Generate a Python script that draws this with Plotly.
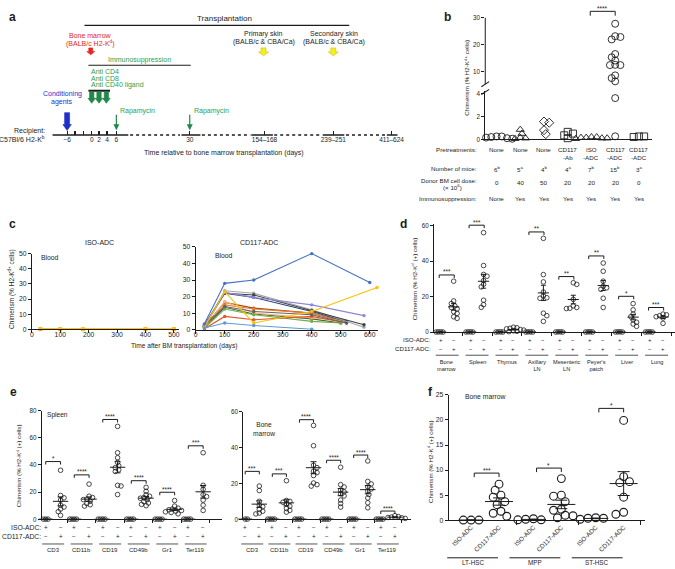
import numpy as np
import plotly.graph_objects as go

# ============================ DATA ============================
# ---- panel a (schematic timeline) ----
timeline_pos = [65.3, 73.3, 81.7, 90.0, 97.3, 105.3, 114.7, 188.3, 263.3, 332.3, 390.7]
timeline_labels = ["−6", " ", " ", "0", "2", "4", "6", "30", "154–168", "239–251", "411–624"]
timeline_solid = [(50.7, 126.7), (180.0, 199.0), (250.0, 271.7), (321.7, 343.3), (386.0, 396.7)]
timeline_dotted = [(128.5, 178.5), (200.5, 249.0), (273.0, 320.5), (345.0, 385.0)]

# ---- panel b ----
b_pretreat_top = ["None", "None", "None", "CD117", "ISO", "CD117", "CD117"]
b_pretreat_bot = ["", "", "", "-Ab", "-ADC", "-ADC", "-ADC"]
b_mice = ["6<sup>b</sup>", "5<sup>a</sup>", "4<sup>b</sup>", "4<sup>a</sup>",
          "7<sup>b</sup>", "15<sup>b</sup>", "3<sup>a</sup>"]
b_dose = ["0", "40", "50", "20", "20", "20", "0"]
b_immuno = ["None", "Yes", "Yes", "Yes", "Yes", "Yes", "Yes"]
b_chimerism = [
    [0.25, 0.15, 0.05, 0.1, 0.2, 0.25],
    [0.85, 0.15, 0.1, 0.05, 0.5],
    [1.55, 1.45, 0.45, 0.8],
    [0.5, 0.1, 0.35, 0.65],
    [0.2, 0.15, 0.1, 0.2, 0.05, 0.15, 0.1],
    [27.8, 23.2, 22.9, 22.0, 16.6, 15.4, 14.2, 12.6, 12.5, 12.5, 8.7, 7.7, 6.5, 3.6, 0.26],
    [0.25, 0.2, 0.25],
]
b_symbols = ["circle-open", "triangle-up-open", "diamond-open", "square-open",
             "triangle-up-open", "circle-open", "square-open"]

# ---- panel c ----
c_iso_days = [30, 100, 180, 400, 500]
c_iso_series = [("#ed7d31", [0.1, 0.1, 0.05, 0.1, 0.1]),
                ("#ffc000", [0.45, 0.4, 0.2, 0.3, 0.4])]
c_cd117_series = [
    ("#43682b", [30, 100, 200, 400, 500], [1.0, 13.5, 9.5, 6.5, 4.0]),
    ("#9e480e", [30, 100, 200, 400, 520], [2.0, 16.5, 13.0, 10.0, 4.5]),
    ("#ed7d31", [30, 100, 200, 400, 515], [1.5, 15.0, 12.5, 10.0, 5.0]),
    ("#f4b183", [30, 100, 200, 400, 510], [1.0, 17.0, 10.0, 7.0, 5.5]),
    ("#70ad47", [30, 100, 200, 400, 500], [1.0, 12.5, 9.0, 5.0, 4.0]),
    ("#e0562b", [30, 100, 200, 400, 520], [0.5, 8.0, 6.0, 8.0, 4.0]),
    ("#636363", [30, 100, 200, 400, 520], [2.5, 14.0, 11.0, 9.0, 4.0]),
    ("#264478", [30, 100, 200, 400, 520], [2.0, 22.0, 19.5, 11.0, 5.0]),
    ("#a5a5a5", [30, 100, 200, 400, 580], [2.0, 23.5, 22.0, 12.0, 1.5]),
    ("#404040", [30, 100, 200, 400, 580], [3.0, 22.0, 21.0, 11.5, 3.0]),
    ("#8e86d8", [30, 100, 200, 400, 580], [2.5, 22.5, 19.5, 15.0, 8.5]),
    ("#ffc000", [30, 100, 200, 400, 625], [1.5, 23.0, 4.0, 11.0, 25.5]),
    ("#5b9bd5", [30, 100, 200, 400], [1.0, 4.0, 2.5, 0.2]),
    ("#4472c4", [30, 100, 200, 400, 600], [3.5, 28.0, 30.0, 46.0, 28.5]),
]

# ---- panel d ----
d_tissues = ["Bone<br>marrow", "Spleen", "Thymus", "Axillary<br>LN", "Mesenteric<br>LN",
             "Peyer's<br>patch", "Liver", "Lung"]
d_iso = [[0.2, 0.1, 0.2, 0.1]] * 8
d_cd117 = [
    [28.7, 17.6, 16.1, 14.8, 13.9, 13.1, 11.5, 10.6, 8.7, 7.8],
    [56.0, 37.5, 32.5, 31.5, 29.0, 27.0, 25.5, 18.0, 15.5, 14.0],
    [2.8, 2.5, 2.2, 1.9, 1.5, 1.2, 0.8, 0.5, 0.3],
    [52.8, 32.4, 28.3, 22.6, 20.4, 19.4, 19.1, 10.7, 9.3, 6.1],
    [27.8, 26.9, 18.5, 14.8, 13.9, 13.5, 13.3],
    [38.9, 34.3, 28.7, 25.9, 25.0, 24.1, 19.1, 13.9],
    [16.1, 12.6, 10.2, 8.7, 6.9, 5.6, 4.6, 3.3],
    [10.2, 9.8, 9.3, 8.7, 8.0, 5.0],
]
d_sig = ["***", "***", "", "**", "**", "**", "*", "***"]
d_sig_y = [32.2, 60.2, None, 56.4, 31.3, 42.9, 20.2, 13.9]

# ---- panel e ----
e_markers = ["CD3", "CD11b", "CD19", "CD49b", "Gr1", "Ter119"]
e_iso = [[0.1, 0.1, 0.1, 0.1]] * 6
e_spleen_cd117 = [
    [36.1, 17.5, 15.8, 14.1, 10.4, 9.0, 7.5, 5.6, 2.9],
    [25.9, 17.0, 16.0, 14.8, 14.5, 13.3, 11.6, 10.7, 9.7],
    [68.4, 49.0, 45.3, 41.9, 39.5, 38.0, 36.4, 35.2, 25.0, 24.5, 18.2],
    [23.5, 20.6, 18.0, 17.0, 16.0, 15.5, 14.5, 13.0, 12.0, 11.0, 10.0],
    [13.8, 9.7, 8.2, 7.5, 7.0, 6.5, 6.0, 5.5, 5.0, 4.0],
    [49.0, 25.0, 22.1, 18.2, 16.7, 14.1, 10.4, 6.5],
]
e_spleen_sig = ["*", "****", "****", "****", "****", "***"]
e_spleen_sig_y = [42.5, 32.7, 73.5, 28.4, 19.9, 54.1]
e_bm_cd117 = [
    [18.5, 16.0, 10.0, 8.0, 7.0, 5.5, 4.5, 3.5, 3.0],
    [21.5, 10.5, 10.0, 9.5, 8.6, 7.3, 6.0, 5.0, 4.0],
    [52.3, 41.0, 30.1, 28.8, 26.8, 26.0, 24.4, 20.2, 19.3, 18.5],
    [29.0, 19.3, 18.0, 16.2, 15.3, 14.3, 13.0, 10.7, 8.8, 6.8],
    [32.5, 21.1, 19.7, 18.0, 16.9, 15.6, 13.8, 11.9, 9.2, 6.4],
    [2.0, 1.5, 1.2, 1.0, 0.8, 0.5],
]
e_bm_sig = ["***", "***", "****", "****", "****", "****"]
e_bm_sig_y = [26.7, 25.3, 55.5, 32.9, 35.8, 4.6]

# ---- panel f ----
f_pops = ["LT-HSC", "MPP", "ST-HSC"]
f_iso = [[0.05, 0.05, 0.05], [0.3, 0.1, 0.1, 0.2], [0.5, 0.2, 0.4, 0.4]]
f_cd117 = [
    [7.2, 6.0, 5.0, 4.6, 3.7, 3.1, 1.8, 1.4, 0.8],
    [8.3, 4.8, 5.0, 3.7, 2.2, 2.0, 1.0, 0.5, 0.9],
    [19.9, 8.7, 7.7, 7.5, 4.6, 1.6, 1.2],
]
f_sig = ["***", "*", "*"]
f_sig_y = [9.4, 10.4, 22.3]

# ============================ STYLE / HELPERS ============================
W, H = 675, 569
FONT = "Liberation Sans, Arial, Helvetica, sans-serif"
INK = "#1c1c1c"
RED = "#e3261c"
GREEN = "#2e9e50"
DKGREEN = "#22874a"
BLUE = "#1f2fc8"
YELLOW = "#f4ef1e"


def PX(x):
    return x / W


def PY(y):
    return 1 - y / H


fig = go.Figure()
AX, ANN, SHP = {}, [], []


def ids(n):
    s = "" if n == 1 else str(n)
    return "xaxis" + s, "yaxis" + s, "x" + s, "y" + s


def axes(n, xdom, ydom, xr, yr, xkw=None, ykw=None, tick_size=6.3):
    xa, ya, xid, yid = ids(n)
    base = dict(showgrid=False, zeroline=False, showline=True, linecolor=INK, linewidth=1,
                ticks="outside", ticklen=3, tickwidth=1, tickcolor=INK,
                tickfont=dict(family=FONT, size=tick_size, color=INK), fixedrange=True)
    xd = dict(base)
    xd.update(domain=[PX(xdom[0]), PX(xdom[1])], range=list(xr), anchor=yid)
    yd = dict(base)
    yd.update(domain=[PY(ydom[1]), PY(ydom[0])], range=list(yr), anchor=xid)
    if xkw:
        xd.update(xkw)
    if ykw:
        yd.update(ykw)
    AX[xa] = xd
    AX[ya] = yd
    return xid, yid


def T(text, x, y, size=6.5, color=INK, xanchor="center", yanchor="middle",
      xref="paper", yref="paper", angle=0):
    ANN.append(dict(text=text, x=PX(x) if xref == "paper" else x,
                    y=PY(y) if yref == "paper" else y, xref=xref, yref=yref,
                    showarrow=False, xanchor=xanchor, yanchor=yanchor, textangle=angle,
                    font=dict(family=FONT, size=size, color=color)))


def sc(xid, yid, x, y, **kw):
    fig.add_trace(go.Scatter(x=x, y=y, xaxis=xid, yaxis=yid, showlegend=False,
                             hoverinfo="skip", cliponaxis=False, **kw))


def pline(x0, y0, x1, y1, width=1.0, color=INK):
    SHP.append(dict(type="line", xref="paper", yref="paper", x0=PX(x0), y0=PY(y0),
                    x1=PX(x1), y1=PY(y1), line=dict(color=color, width=width)))


def swarm(vals, ypx, xscale, diam, mind=0.66):
    """Deterministic beeswarm offsets (data units of x) for a column of points."""
    order = sorted(range(len(vals)), key=lambda i: -vals[i])
    placed, offs = [], [0.0] * len(vals)
    step = diam * 0.25
    thr = (diam * mind) ** 2
    for i in order:
        y = ypx(vals[i])
        chosen = 0.0
        for k in range(120):
            cands = [0.0] if k == 0 else ([k * step, -k * step] if k % 2 else [-k * step, k * step])
            ok = None
            for c in cands:
                if all((c - a) ** 2 + (y - b) ** 2 >= thr for a, b in placed):
                    ok = c
                    break
            if ok is not None:
                chosen = ok
                break
        placed.append((chosen, y))
        offs[i] = chosen / xscale
    return offs


def dots(xid, yid, xc, vals, ypx, xscale, diam, symbol="circle-open", lw=0.8, mind=0.66):
    offs = swarm(vals, ypx, xscale, diam, mind)
    sc(xid, yid, [xc + o for o in offs], list(vals), mode="markers",
       marker=dict(symbol=symbol, size=diam, color=INK, line=dict(width=lw, color=INK)))


def mean_sem(xid, yid, xc, vals, meanw, capw):
    v = np.asarray(vals, dtype=float)
    m = float(v.mean())
    s = float(v.std(ddof=1) / np.sqrt(len(v)))
    sc(xid, yid, [xc], [m], mode="markers",
       marker=dict(symbol="line-ew", size=meanw, color=INK, line=dict(width=1, color=INK)),
       error_y=dict(type="data", array=[s], width=capw, thickness=1, color=INK))


def bracket(xid, yid, x0, x1, y, drop, text, size=6.5, shift=-2.5):
    sc(xid, yid, [x0, x0, x1, x1], [y - drop, y, y, y - drop], mode="lines",
       line=dict(color=INK, width=1))
    ANN.append(dict(text=text, x=(x0 + x1) / 2, y=y, xref=xid, yref=yid, showarrow=False,
                    yanchor="bottom", yshift=shift, font=dict(family=FONT, size=size, color=INK)))


def x_to_px(dom, rng, v):
    return dom[0] + (v - rng[0]) / (rng[1] - rng[0]) * (dom[1] - dom[0])


# ============================ PANEL a ============================
xa_, ya_ = axes(1, (0, 460), (0, 160), (0, 460), (160, 0),
                xkw=dict(anchor="free", position=PY(132.7), showline=False,
                         tickmode="array", tickvals=timeline_pos, ticktext=timeline_labels,
                         ticks="inside", ticklen=4, tickwidth=1.2, ticklabelstandoff=-1,
                         tickfont=dict(family=FONT, size=6.5, color=INK)),
                ykw=dict(visible=False))

sx, sy = [], []
for a, b in timeline_solid:
    sx += [a, b, None]
    sy += [132.7, 132.7, None]
sc(xa_, ya_, sx, sy, mode="lines", line=dict(color=INK, width=1.6))
dx_, dy_ = [], []
for a, b in timeline_dotted:
    dx_ += [a, b, None]
    dy_ += [132.7, 132.7, None]
sc(xa_, ya_, dx_, dy_, mode="lines", line=dict(color=INK, width=1.4, dash="dot"))

# horizontal bars: transplantation, immunosuppression, antibody bar
for x0, x1, yy, wdt in [(82.7, 348.3, 21.7, 1.2), (86.7, 189.3, 62.0, 1.2), (86.7, 108.3, 87.8, 2.0)]:
    sc(xa_, ya_, [x0, x1], [yy, yy], mode="lines", line=dict(color=INK, width=wdt))


def block_arrow(xc, ytop, ybot, shaft, head, hlen, color, edge=None):
    xs = [xc - shaft / 2, xc + shaft / 2, xc + shaft / 2, xc + head / 2, xc,
          xc - head / 2, xc - shaft / 2, xc - shaft / 2]
    ys = [ytop, ytop, ybot - hlen, ybot - hlen, ybot, ybot - hlen, ybot - hlen, ytop]
    sc(xa_, ya_, xs, ys, mode="lines", fill="toself", fillcolor=color,
       line=dict(color=edge or color, width=0.6))


block_arrow(89.0, 44.5, 51.5, 4.0, 8.0, 3.5, RED)
block_arrow(262.3, 44.5, 52.5, 5.0, 10.0, 4.0, YELLOW, "#c9bf10")
block_arrow(332.3, 44.5, 52.5, 5.0, 10.0, 4.0, YELLOW, "#c9bf10")
for xc in (90.0, 97.3, 104.7):
    block_arrow(xc, 88.8, 100.5, 4.4, 7.6, 5.0, DKGREEN)
block_arrow(65.3, 110.0, 128.0, 5.0, 8.5, 6.0, BLUE)

for xr_ in (114.7, 188.3):
    ANN.append(dict(x=xr_, y=127.8, ax=xr_, ay=110.5, xref=xa_, yref=ya_, axref=xa_, ayref=ya_,
                    text="", showarrow=True, arrowhead=2, arrowsize=1, arrowwidth=1.2,
                    arrowcolor=DKGREEN))

T("Transplantation", 223, 15, size=8.0)
T("Bone marrow", 89, 31.5, size=7, color=RED)
T("(BALB/c H2-K<sup>d</sup>)", 89, 39.5, size=7, color=RED)
T("Primary skin", 262.3, 30, size=7)
T("(BALB/c & CBA/Ca)", 262.3, 38.5, size=7)
T("Secondary skin", 333.3, 30, size=7)
T("(BALB/c & CBA/Ca)", 333.3, 38.5, size=7)
T("Immunosuppression", 137.7, 56.5, size=7, color=GREEN)
T("Anti CD4", 87.0, 68.3, size=7, color=GREEN, xanchor="left")
T("Anti CD8", 87.0, 75.3, size=7, color=GREEN, xanchor="left")
T("Anti CD40 ligand", 87.0, 82.0, size=7, color=GREEN, xanchor="left")
T("Conditioning", 60.5, 91.3, size=7, color=BLUE)
T("agents", 60.5, 99.5, size=7, color=BLUE)
T("Rapamycin", 116.8, 108.0, size=7, color=GREEN, xanchor="left")
T("Rapamycin", 190.5, 108.0, size=7, color=GREEN, xanchor="left")
T("Recipient:", 45.5, 128.3, size=7, xanchor="right")
T("C57Bl/6 H2-K<sup>b</sup>", 45.5, 136.7, size=7, xanchor="right")
T("Time relative to bone marrow transplantation (days)", 223, 150.5, size=7)

# ============================ PANEL b ============================
B_XDOM, B_XR = (484.7, 652.0), (-0.475, 6.555)
xb, yb = axes(2, B_XDOM, (88.3, 137.0), B_XR, (0, 4.2),
              xkw=dict(ticks="", showticklabels=False),
              ykw=dict(tickmode="array", tickvals=[0, 2, 4]))
xb2, yb2 = axes(3, B_XDOM, (0.3, 81.3), B_XR, (5.4, 35),
                xkw=dict(visible=False),
                ykw=dict(showline=False, tickmode="array", tickvals=[10, 20, 30]))
SHP.append(dict(type="line", xref="x3 domain", yref="y3", x0=0, x1=0, y0=5.4, y1=30,
                line=dict(color=INK, width=1)))
pline(480.8, 83.8, 488.6, 78.6, 1.1)
pline(480.8, 91.6, 488.6, 86.4, 1.1)


def b_ypx(v):
    return (137 - v * 11.6) if v < 4.2 else (81.3 - (v - 5.4) * 2.735)


for i, vals in enumerate(b_chimerism):
    offs = swarm(vals, b_ypx, 23.8, 7, 0.6)
    lo = [(i + o, v) for o, v in zip(offs, vals) if v < 4.2]
    hi = [(i + o, v) for o, v in zip(offs, vals) if v >= 4.2]
    mk = dict(symbol=b_symbols[i], size=7, color=INK, line=dict(width=0.9, color=INK))
    if lo:
        sc(xb, yb, [p[0] for p in lo], [p[1] for p in lo], mode="markers", marker=mk)
    if hi:
        sc(xb2, yb2, [p[0] for p in hi], [p[1] for p in hi], mode="markers", marker=mk)

bracket(xb2, yb2, 3.95, 5.0, 32.4, 1.6, "****", size=6.5)

T("Chimerism (% H2-K<sup>d+</sup> cells)", 466, 75, size=6.2, angle=-90)
for i in range(7):
    T(b_pretreat_top[i], i, 147, size=6.2, xref=xb)
    if b_pretreat_bot[i]:
        T(b_pretreat_bot[i], i, 155, size=6.2, xref=xb)
    T(b_mice[i], i, 167, size=6.2, xref=xb)
    T(b_dose[i], i, 181, size=6.2, xref=xb)
    T(b_immuno[i], i, 196.7, size=6.2, xref=xb)
T("Pretreatments:", 478, 147, size=6.2, xanchor="right")
T("Number of mice:", 478, 167, size=6.2, xanchor="right")
T("Donor BM cell dose:", 478, 178.5, size=6.2, xanchor="right")
T("(× 10<sup>6</sup>)", 452, 185.5, size=6.2)
T("Immunosuppression:", 478, 196.7, size=6.2, xanchor="right")

# ============================ PANEL c ============================
xc1, yc1 = axes(4, (30.0, 178.0), (252.7, 329.5), (0, 520), (0, 50),
                xkw=dict(tickmode="array", tickvals=[0, 100, 200, 300, 400, 500],
                         ticklabelstandoff=-5),
                ykw=dict(tickmode="array", tickvals=[0, 10, 20, 30, 40, 50]), tick_size=6.8)
xc2, yc2 = axes(5, (194.3, 377.0), (246.0, 329.7), (0, 628), (0, 50),
                xkw=dict(tickmode="array", tickvals=[0, 100, 200, 300, 400, 500, 600],
                         ticklabelstandoff=-5),
                ykw=dict(tickmode="array", tickvals=[0, 10, 20, 30, 40, 50]), tick_size=6.8)
for col, vals in c_iso_series:
    sc(xc1, yc1, c_iso_days, vals, mode="lines+markers",
       line=dict(color=col, width=1.3), marker=dict(symbol="square", size=3.6, color=col))
for col, days, vals in c_cd117_series:
    sc(xc2, yc2, days, vals, mode="lines+markers",
       line=dict(color=col, width=1.1), marker=dict(symbol="circle", size=3.4, color=col))
T("ISO-ADC", 98, 241.7, size=7)
T("CD117-ADC", 258, 241.7, size=7)
T("Blood", 48, 256.7, size=6.8)
T("Blood", 223, 255.0, size=6.8)
T("Chimerism (% H2-K<sup>d+</sup> cells)", 9.5, 288, size=6.5, angle=-90)
T("Time after BM transplantation (days)", 183, 346.5, size=6.6)

# ============================ PANEL d ============================
D_XDOM, D_XR = (433.3, 675.0), (-0.44, 7.617)
xd, yd = axes(6, D_XDOM, (222.5, 332.3), D_XR, (0, 61),
              xkw=dict(tickmode="array", tickvals=[k + 0.5 for k in range(8)],
                       showticklabels=False, ticklen=3),
              ykw=dict(tickmode="array", tickvals=[0, 20, 40, 60]))
DDX = 0.217
for k in range(8):
    dots(xd, yd, k - DDX, d_iso[k], lambda v: v * 1.8, 30.0, 4.6, mind=0.5)
    dots(xd, yd, k + DDX, d_cd117[k], lambda v: v * 1.8, 30.0, 4.6, mind=0.75)
    mean_sem(xd, yd, k - DDX, d_iso[k], 8, 2.5)
    mean_sem(xd, yd, k + DDX, d_cd117[k], 8, 2.5)
    if d_sig[k]:
        bracket(xd, yd, k - DDX - 0.05, k + DDX + 0.02, d_sig_y[k], 1.7, d_sig[k], size=6.3)
    T("+", k - DDX, 340, size=6, xref=xd)
    T("−", k + DDX, 340, size=6, xref=xd)
    T("−", k - DDX, 349, size=6, xref=xd)
    T("+", k + DDX, 349, size=6, xref=xd)
    cpx = x_to_px(D_XDOM, D_XR, k)
    pline(cpx - 11.5, 355.6, min(cpx + 11.5, 674.5), 355.6, 1.0, "#555555")
    T(d_tissues[k], k, 357.3, size=5.6, xref=xd, yanchor="top")
T("ISO-ADC:", 432, 340, size=6.2, xanchor="right")
T("CD117-ADC:", 432, 349, size=6.2, xanchor="right")
T("Chimerism (% H2-K<sup>d</sup> (+) cells)", 413, 278, size=6.2, angle=-90)

# ============================ PANEL e ============================
ES_XDOM, ES_XR = (40.0, 220.7), (-0.395, 5.923)
EB_XDOM, EB_XR = (242.0, 410.0), (-0.331, 5.846)
xe1, ye1 = axes(7, ES_XDOM, (411.7, 521.7), ES_XR, (0, 80),
                xkw=dict(tickmode="array", tickvals=[k + 0.5 for k in range(6)],
                         showticklabels=False),
                ykw=dict(tickmode="array", tickvals=[0, 20, 40, 60, 80]))
xe2, ye2 = axes(8, EB_XDOM, (412.7, 521.7), EB_XR, (0, 60),
                xkw=dict(tickmode="array", tickvals=[k + 0.5 for k in range(6)],
                         showticklabels=False),
                ykw=dict(tickmode="array", tickvals=[0, 20, 40, 60]))
EDX = 0.26
for (xid, yid, xdom, xr, cd, sig, sigy, ysc, xsc) in [
        (xe1, ye1, ES_XDOM, ES_XR, e_spleen_cd117, e_spleen_sig, e_spleen_sig_y, 1.375, 28.6),
        (xe2, ye2, EB_XDOM, EB_XR, e_bm_cd117, e_bm_sig, e_bm_sig_y, 1.8167, 27.2)]:
    for k in range(6):
        dots(xid, yid, k - EDX, e_iso[k], lambda v, s=ysc: v * s, xsc, 4.6, mind=0.5)
        dots(xid, yid, k + EDX, cd[k], lambda v, s=ysc: v * s, xsc, 4.6, mind=0.75)
        mean_sem(xid, yid, k - EDX, e_iso[k], 10, 3)
        mean_sem(xid, yid, k + EDX, cd[k], 11, 3)
        bracket(xid, yid, k - EDX, k + EDX, sigy[k], 3.0 / ysc, sig[k], size=6.3)
        T("+", k - EDX, 530, size=6.3, xref=xid)
        T("−", k + EDX, 530, size=6.3, xref=xid)
        T("−", k - EDX, 539.3, size=6.3, xref=xid)
        T("+", k + EDX, 539.3, size=6.3, xref=xid)
        cpx = x_to_px(xdom, xr, k)
        pline(cpx - 11, 546.7, cpx + 11, 546.7, 1.0, "#555555")
        T(e_markers[k], k, 552.7, size=6.0, xref=xid)
T("ISO-ADC:", 41, 530, size=6.8, xanchor="right")
T("CD117-ADC:", 41, 539.3, size=6.8, xanchor="right")
T("Spleen", 43, 416, size=6.6, xanchor="left")
T("Bone<br>marrow", 263, 430.5, size=6.6)
T("Chimerism (% H2-K<sup>d</sup> (+) cells)", 17, 467, size=6.2, angle=-90)

# ============================ PANEL f ============================
F_XDOM, F_XR = (448.0, 645.0), (-0.584, 2.568)
FDX = 0.224
f_tickvals, f_ticktext = [], []
for k in range(3):
    f_tickvals += [k - FDX, k + FDX]
    f_ticktext += ["ISO-ADC", "CD117-ADC"]
xf, yf = axes(9, F_XDOM, (395.7, 522.7), F_XR, (0, 25),
              xkw=dict(tickmode="array", tickvals=f_tickvals, ticktext=f_ticktext, ticks="",
                       tickangle=-45, tickfont=dict(family=FONT, size=6.3, color=INK),
                       minor=dict(tickmode="array", tickvals=[0.5, 1.5, 2.5], ticks="outside",
                                  ticklen=4, tickwidth=1, tickcolor=INK)),
              ykw=dict(tickmode="array", tickvals=[0, 5, 10, 15, 20, 25]), tick_size=6.8)
for k in range(3):
    dots(xf, yf, k - FDX, f_iso[k], lambda v: v * 5.08, 62.5, 7.8, lw=1.1, mind=0.95)
    dots(xf, yf, k + FDX, f_cd117[k], lambda v: v * 5.08, 62.5, 7.8, lw=1.1, mind=0.9)
    mean_sem(xf, yf, k - FDX, f_iso[k], 18, 5)
    mean_sem(xf, yf, k + FDX, f_cd117[k], 20, 6)
    bracket(xf, yf, k - FDX + 0.05, k + FDX, f_sig_y[k], 0.8, f_sig[k], size=6.5)
    cpx = x_to_px(F_XDOM, F_XR, k)
    pline(cpx - 38, 560.7, cpx + 13, 560.7, 1.0, INK)
    T(f_pops[k], cpx - 12.5, 565.8, size=6.3)
T("Bone marrow", 462, 397.3, size=6.8, xanchor="left")
T("Chimerism (% H2-K<sup>d</sup> (+) cells)", 430, 463, size=6.2, angle=-90)

# ============================ panel letters ============================
for letter, lx, ly in [("a", 5, 13), ("b", 441, 13), ("c", 5, 223), ("d", 397, 223),
                       ("e", 6, 393), ("f", 425, 393)]:
    T("<b>%s</b>" % letter, lx, ly, size=12, xanchor="left")

fig.update_layout(width=W, height=H, margin=dict(l=0, r=0, t=0, b=0), autosize=False,
                  paper_bgcolor="white", plot_bgcolor="rgba(0,0,0,0)", showlegend=False,
                  font=dict(family=FONT, size=6.5, color=INK),
                  annotations=ANN, shapes=SHP, **AX)

fig.write_html("out.html", config={"displayModeBar": False, "staticPlot": True},
               post_script="document.body.style.margin='0';document.body.style.overflow='hidden';")
